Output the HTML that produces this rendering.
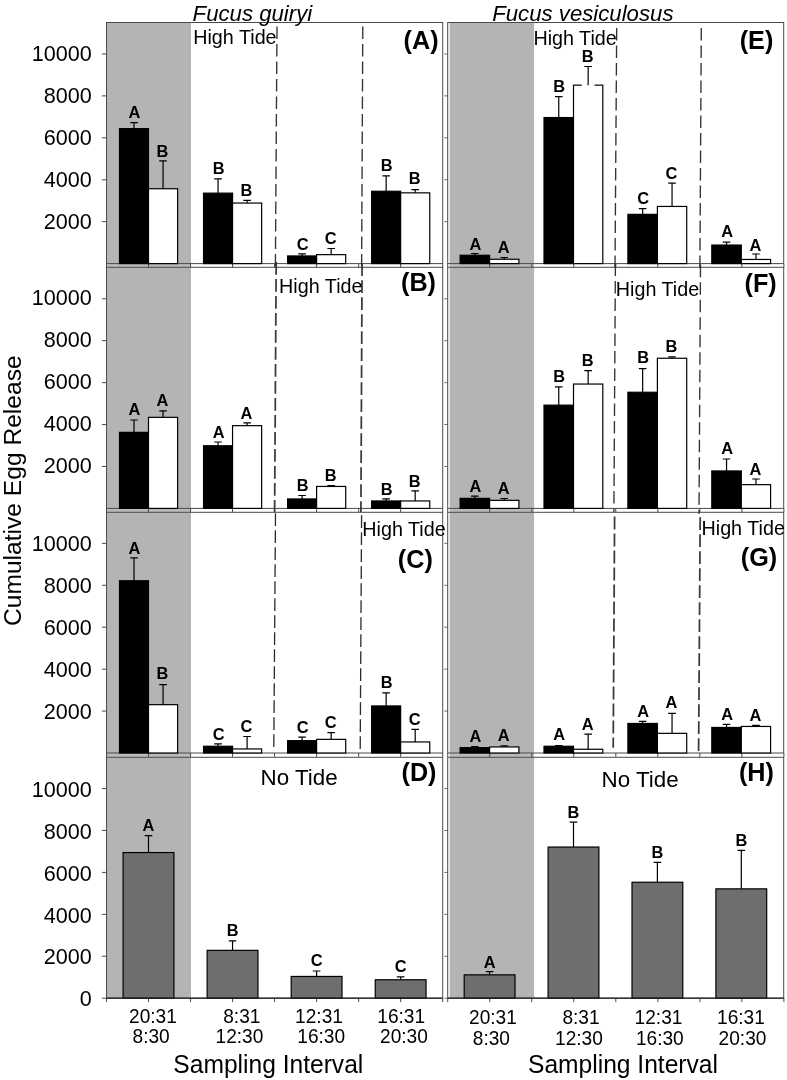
<!DOCTYPE html>
<html lang="en">
<head>
<meta charset="utf-8">
<title>Cumulative Egg Release by Sampling Interval</title>
<style>html,body{margin:0;padding:0;background:#fff}svg{display:block}text{font-kerning:normal}</style>
</head>
<body>
<svg width="787" height="1080" viewBox="0 0 787 1080" font-family="'Liberation Sans', sans-serif" fill="#000">
<rect width="787" height="1080" fill="#fff"/>
<rect x="106.5" y="263.6" width="84.5" height="3.7" fill="#bababa"/>
<rect x="106.5" y="508.4" width="84.5" height="3.9" fill="#bababa"/>
<rect x="106.5" y="753" width="84.5" height="4.3" fill="#bababa"/>
<rect x="449.7" y="263.6" width="84.4" height="3.7" fill="#bababa"/>
<rect x="449.7" y="508.4" width="84.4" height="3.9" fill="#bababa"/>
<rect x="449.7" y="753" width="84.4" height="4.3" fill="#bababa"/>
<rect x="106.5" y="22.5" width="84.5" height="241.1" fill="#b4b4b4"/>
<rect x="106.5" y="22.5" width="336.2" height="241.1" fill="none" stroke="#4a4a4a" stroke-width="1"/>
<line x1="101.9" y1="221.67" x2="106.5" y2="221.67" stroke="#4a4a4a" stroke-width="1"/>
<text transform="translate(91.7 228.97) scale(1 1.06)" font-size="21.6" text-anchor="end">2000</text>
<line x1="101.9" y1="179.74" x2="106.5" y2="179.74" stroke="#4a4a4a" stroke-width="1"/>
<text transform="translate(91.7 187.04) scale(1 1.06)" font-size="21.6" text-anchor="end">4000</text>
<line x1="101.9" y1="137.81" x2="106.5" y2="137.81" stroke="#4a4a4a" stroke-width="1"/>
<text transform="translate(91.7 145.11) scale(1 1.06)" font-size="21.6" text-anchor="end">6000</text>
<line x1="101.9" y1="95.88" x2="106.5" y2="95.88" stroke="#4a4a4a" stroke-width="1"/>
<text transform="translate(91.7 103.18) scale(1 1.06)" font-size="21.6" text-anchor="end">8000</text>
<line x1="101.9" y1="53.95" x2="106.5" y2="53.95" stroke="#4a4a4a" stroke-width="1"/>
<text transform="translate(91.7 61.25) scale(1 1.06)" font-size="21.6" text-anchor="end">10000</text>
<line x1="106.5" y1="263.6" x2="106.5" y2="267.5" stroke="#4a4a4a" stroke-width="1"/>
<line x1="148.53" y1="263.6" x2="148.53" y2="267.5" stroke="#4a4a4a" stroke-width="1"/>
<line x1="190.55" y1="263.6" x2="190.55" y2="267.5" stroke="#4a4a4a" stroke-width="1"/>
<line x1="232.57" y1="263.6" x2="232.57" y2="267.5" stroke="#4a4a4a" stroke-width="1"/>
<line x1="274.6" y1="263.6" x2="274.6" y2="267.5" stroke="#4a4a4a" stroke-width="1"/>
<line x1="316.62" y1="263.6" x2="316.62" y2="267.5" stroke="#4a4a4a" stroke-width="1"/>
<line x1="358.65" y1="263.6" x2="358.65" y2="267.5" stroke="#4a4a4a" stroke-width="1"/>
<line x1="400.68" y1="263.6" x2="400.68" y2="267.5" stroke="#4a4a4a" stroke-width="1"/>
<line x1="442.7" y1="263.6" x2="442.7" y2="267.5" stroke="#4a4a4a" stroke-width="1"/>
<rect x="449.7" y="22.5" width="84.4" height="241.1" fill="#b4b4b4"/>
<rect x="447.7" y="22.5" width="336" height="241.1" fill="none" stroke="#4a4a4a" stroke-width="1"/>
<line x1="444.3" y1="221.67" x2="447.7" y2="221.67" stroke="#4a4a4a" stroke-width="0.8"/>
<line x1="444.3" y1="179.74" x2="447.7" y2="179.74" stroke="#4a4a4a" stroke-width="0.8"/>
<line x1="444.3" y1="137.81" x2="447.7" y2="137.81" stroke="#4a4a4a" stroke-width="0.8"/>
<line x1="444.3" y1="95.88" x2="447.7" y2="95.88" stroke="#4a4a4a" stroke-width="0.8"/>
<line x1="444.3" y1="53.95" x2="447.7" y2="53.95" stroke="#4a4a4a" stroke-width="0.8"/>
<line x1="447.7" y1="263.6" x2="447.7" y2="267.5" stroke="#4a4a4a" stroke-width="1"/>
<line x1="489.72" y1="263.6" x2="489.72" y2="267.5" stroke="#4a4a4a" stroke-width="1"/>
<line x1="531.75" y1="263.6" x2="531.75" y2="267.5" stroke="#4a4a4a" stroke-width="1"/>
<line x1="573.77" y1="263.6" x2="573.77" y2="267.5" stroke="#4a4a4a" stroke-width="1"/>
<line x1="615.8" y1="263.6" x2="615.8" y2="267.5" stroke="#4a4a4a" stroke-width="1"/>
<line x1="657.83" y1="263.6" x2="657.83" y2="267.5" stroke="#4a4a4a" stroke-width="1"/>
<line x1="699.85" y1="263.6" x2="699.85" y2="267.5" stroke="#4a4a4a" stroke-width="1"/>
<line x1="741.88" y1="263.6" x2="741.88" y2="267.5" stroke="#4a4a4a" stroke-width="1"/>
<line x1="783.9" y1="263.6" x2="783.9" y2="267.5" stroke="#4a4a4a" stroke-width="1"/>
<rect x="106.5" y="267.3" width="84.5" height="241.1" fill="#b4b4b4"/>
<rect x="106.5" y="267.3" width="336.2" height="241.1" fill="none" stroke="#4a4a4a" stroke-width="1"/>
<line x1="101.9" y1="466.47" x2="106.5" y2="466.47" stroke="#4a4a4a" stroke-width="1"/>
<text transform="translate(91.7 472.97) scale(1 1.06)" font-size="21.6" text-anchor="end">2000</text>
<line x1="101.9" y1="424.54" x2="106.5" y2="424.54" stroke="#4a4a4a" stroke-width="1"/>
<text transform="translate(91.7 431.04) scale(1 1.06)" font-size="21.6" text-anchor="end">4000</text>
<line x1="101.9" y1="382.61" x2="106.5" y2="382.61" stroke="#4a4a4a" stroke-width="1"/>
<text transform="translate(91.7 389.11) scale(1 1.06)" font-size="21.6" text-anchor="end">6000</text>
<line x1="101.9" y1="340.68" x2="106.5" y2="340.68" stroke="#4a4a4a" stroke-width="1"/>
<text transform="translate(91.7 347.18) scale(1 1.06)" font-size="21.6" text-anchor="end">8000</text>
<line x1="101.9" y1="298.75" x2="106.5" y2="298.75" stroke="#4a4a4a" stroke-width="1"/>
<text transform="translate(91.7 305.25) scale(1 1.06)" font-size="21.6" text-anchor="end">10000</text>
<line x1="106.5" y1="508.4" x2="106.5" y2="512.3" stroke="#4a4a4a" stroke-width="1"/>
<line x1="148.53" y1="508.4" x2="148.53" y2="512.3" stroke="#4a4a4a" stroke-width="1"/>
<line x1="190.55" y1="508.4" x2="190.55" y2="512.3" stroke="#4a4a4a" stroke-width="1"/>
<line x1="232.57" y1="508.4" x2="232.57" y2="512.3" stroke="#4a4a4a" stroke-width="1"/>
<line x1="274.6" y1="508.4" x2="274.6" y2="512.3" stroke="#4a4a4a" stroke-width="1"/>
<line x1="316.62" y1="508.4" x2="316.62" y2="512.3" stroke="#4a4a4a" stroke-width="1"/>
<line x1="358.65" y1="508.4" x2="358.65" y2="512.3" stroke="#4a4a4a" stroke-width="1"/>
<line x1="400.68" y1="508.4" x2="400.68" y2="512.3" stroke="#4a4a4a" stroke-width="1"/>
<line x1="442.7" y1="508.4" x2="442.7" y2="512.3" stroke="#4a4a4a" stroke-width="1"/>
<rect x="449.7" y="267.3" width="84.4" height="241.1" fill="#b4b4b4"/>
<rect x="447.7" y="267.3" width="336" height="241.1" fill="none" stroke="#4a4a4a" stroke-width="1"/>
<line x1="444.3" y1="466.47" x2="447.7" y2="466.47" stroke="#4a4a4a" stroke-width="0.8"/>
<line x1="444.3" y1="424.54" x2="447.7" y2="424.54" stroke="#4a4a4a" stroke-width="0.8"/>
<line x1="444.3" y1="382.61" x2="447.7" y2="382.61" stroke="#4a4a4a" stroke-width="0.8"/>
<line x1="444.3" y1="340.68" x2="447.7" y2="340.68" stroke="#4a4a4a" stroke-width="0.8"/>
<line x1="444.3" y1="298.75" x2="447.7" y2="298.75" stroke="#4a4a4a" stroke-width="0.8"/>
<line x1="447.7" y1="508.4" x2="447.7" y2="512.3" stroke="#4a4a4a" stroke-width="1"/>
<line x1="489.72" y1="508.4" x2="489.72" y2="512.3" stroke="#4a4a4a" stroke-width="1"/>
<line x1="531.75" y1="508.4" x2="531.75" y2="512.3" stroke="#4a4a4a" stroke-width="1"/>
<line x1="573.77" y1="508.4" x2="573.77" y2="512.3" stroke="#4a4a4a" stroke-width="1"/>
<line x1="615.8" y1="508.4" x2="615.8" y2="512.3" stroke="#4a4a4a" stroke-width="1"/>
<line x1="657.83" y1="508.4" x2="657.83" y2="512.3" stroke="#4a4a4a" stroke-width="1"/>
<line x1="699.85" y1="508.4" x2="699.85" y2="512.3" stroke="#4a4a4a" stroke-width="1"/>
<line x1="741.88" y1="508.4" x2="741.88" y2="512.3" stroke="#4a4a4a" stroke-width="1"/>
<line x1="783.9" y1="508.4" x2="783.9" y2="512.3" stroke="#4a4a4a" stroke-width="1"/>
<rect x="106.5" y="512.3" width="84.5" height="240.7" fill="#b4b4b4"/>
<rect x="106.5" y="512.3" width="336.2" height="240.7" fill="none" stroke="#4a4a4a" stroke-width="1"/>
<line x1="101.9" y1="711.07" x2="106.5" y2="711.07" stroke="#4a4a4a" stroke-width="1"/>
<text transform="translate(91.7 718.87) scale(1 1.06)" font-size="21.6" text-anchor="end">2000</text>
<line x1="101.9" y1="669.14" x2="106.5" y2="669.14" stroke="#4a4a4a" stroke-width="1"/>
<text transform="translate(91.7 676.94) scale(1 1.06)" font-size="21.6" text-anchor="end">4000</text>
<line x1="101.9" y1="627.21" x2="106.5" y2="627.21" stroke="#4a4a4a" stroke-width="1"/>
<text transform="translate(91.7 635.01) scale(1 1.06)" font-size="21.6" text-anchor="end">6000</text>
<line x1="101.9" y1="585.28" x2="106.5" y2="585.28" stroke="#4a4a4a" stroke-width="1"/>
<text transform="translate(91.7 593.08) scale(1 1.06)" font-size="21.6" text-anchor="end">8000</text>
<line x1="101.9" y1="543.35" x2="106.5" y2="543.35" stroke="#4a4a4a" stroke-width="1"/>
<text transform="translate(91.7 551.15) scale(1 1.06)" font-size="21.6" text-anchor="end">10000</text>
<line x1="106.5" y1="753" x2="106.5" y2="756.9" stroke="#4a4a4a" stroke-width="1"/>
<line x1="148.53" y1="753" x2="148.53" y2="756.9" stroke="#4a4a4a" stroke-width="1"/>
<line x1="190.55" y1="753" x2="190.55" y2="756.9" stroke="#4a4a4a" stroke-width="1"/>
<line x1="232.57" y1="753" x2="232.57" y2="756.9" stroke="#4a4a4a" stroke-width="1"/>
<line x1="274.6" y1="753" x2="274.6" y2="756.9" stroke="#4a4a4a" stroke-width="1"/>
<line x1="316.62" y1="753" x2="316.62" y2="756.9" stroke="#4a4a4a" stroke-width="1"/>
<line x1="358.65" y1="753" x2="358.65" y2="756.9" stroke="#4a4a4a" stroke-width="1"/>
<line x1="400.68" y1="753" x2="400.68" y2="756.9" stroke="#4a4a4a" stroke-width="1"/>
<line x1="442.7" y1="753" x2="442.7" y2="756.9" stroke="#4a4a4a" stroke-width="1"/>
<rect x="449.7" y="512.3" width="84.4" height="240.7" fill="#b4b4b4"/>
<rect x="447.7" y="512.3" width="336" height="240.7" fill="none" stroke="#4a4a4a" stroke-width="1"/>
<line x1="444.3" y1="711.07" x2="447.7" y2="711.07" stroke="#4a4a4a" stroke-width="0.8"/>
<line x1="444.3" y1="669.14" x2="447.7" y2="669.14" stroke="#4a4a4a" stroke-width="0.8"/>
<line x1="444.3" y1="627.21" x2="447.7" y2="627.21" stroke="#4a4a4a" stroke-width="0.8"/>
<line x1="444.3" y1="585.28" x2="447.7" y2="585.28" stroke="#4a4a4a" stroke-width="0.8"/>
<line x1="444.3" y1="543.35" x2="447.7" y2="543.35" stroke="#4a4a4a" stroke-width="0.8"/>
<line x1="447.7" y1="753" x2="447.7" y2="756.9" stroke="#4a4a4a" stroke-width="1"/>
<line x1="489.72" y1="753" x2="489.72" y2="756.9" stroke="#4a4a4a" stroke-width="1"/>
<line x1="531.75" y1="753" x2="531.75" y2="756.9" stroke="#4a4a4a" stroke-width="1"/>
<line x1="573.77" y1="753" x2="573.77" y2="756.9" stroke="#4a4a4a" stroke-width="1"/>
<line x1="615.8" y1="753" x2="615.8" y2="756.9" stroke="#4a4a4a" stroke-width="1"/>
<line x1="657.83" y1="753" x2="657.83" y2="756.9" stroke="#4a4a4a" stroke-width="1"/>
<line x1="699.85" y1="753" x2="699.85" y2="756.9" stroke="#4a4a4a" stroke-width="1"/>
<line x1="741.88" y1="753" x2="741.88" y2="756.9" stroke="#4a4a4a" stroke-width="1"/>
<line x1="783.9" y1="753" x2="783.9" y2="756.9" stroke="#4a4a4a" stroke-width="1"/>
<rect x="106.5" y="757.3" width="84.5" height="240.9" fill="#b4b4b4"/>
<rect x="106.5" y="757.3" width="336.2" height="240.9" fill="none" stroke="#4a4a4a" stroke-width="1"/>
<line x1="101.9" y1="956.27" x2="106.5" y2="956.27" stroke="#4a4a4a" stroke-width="1"/>
<text transform="translate(91.7 964.47) scale(1 1.06)" font-size="21.6" text-anchor="end">2000</text>
<line x1="101.9" y1="914.34" x2="106.5" y2="914.34" stroke="#4a4a4a" stroke-width="1"/>
<text transform="translate(91.7 922.54) scale(1 1.06)" font-size="21.6" text-anchor="end">4000</text>
<line x1="101.9" y1="872.41" x2="106.5" y2="872.41" stroke="#4a4a4a" stroke-width="1"/>
<text transform="translate(91.7 880.61) scale(1 1.06)" font-size="21.6" text-anchor="end">6000</text>
<line x1="101.9" y1="830.48" x2="106.5" y2="830.48" stroke="#4a4a4a" stroke-width="1"/>
<text transform="translate(91.7 838.68) scale(1 1.06)" font-size="21.6" text-anchor="end">8000</text>
<line x1="101.9" y1="788.55" x2="106.5" y2="788.55" stroke="#4a4a4a" stroke-width="1"/>
<text transform="translate(91.7 796.75) scale(1 1.06)" font-size="21.6" text-anchor="end">10000</text>
<line x1="106.5" y1="998.2" x2="106.5" y2="1002.1" stroke="#4a4a4a" stroke-width="1"/>
<line x1="148.53" y1="998.2" x2="148.53" y2="1002.1" stroke="#4a4a4a" stroke-width="1"/>
<line x1="190.55" y1="998.2" x2="190.55" y2="1002.1" stroke="#4a4a4a" stroke-width="1"/>
<line x1="232.57" y1="998.2" x2="232.57" y2="1002.1" stroke="#4a4a4a" stroke-width="1"/>
<line x1="274.6" y1="998.2" x2="274.6" y2="1002.1" stroke="#4a4a4a" stroke-width="1"/>
<line x1="316.62" y1="998.2" x2="316.62" y2="1002.1" stroke="#4a4a4a" stroke-width="1"/>
<line x1="358.65" y1="998.2" x2="358.65" y2="1002.1" stroke="#4a4a4a" stroke-width="1"/>
<line x1="400.68" y1="998.2" x2="400.68" y2="1002.1" stroke="#4a4a4a" stroke-width="1"/>
<line x1="442.7" y1="998.2" x2="442.7" y2="1002.1" stroke="#4a4a4a" stroke-width="1"/>
<rect x="449.7" y="757.3" width="84.4" height="240.9" fill="#b4b4b4"/>
<rect x="447.7" y="757.3" width="336" height="240.9" fill="none" stroke="#4a4a4a" stroke-width="1"/>
<line x1="444.3" y1="956.27" x2="447.7" y2="956.27" stroke="#4a4a4a" stroke-width="0.8"/>
<line x1="444.3" y1="914.34" x2="447.7" y2="914.34" stroke="#4a4a4a" stroke-width="0.8"/>
<line x1="444.3" y1="872.41" x2="447.7" y2="872.41" stroke="#4a4a4a" stroke-width="0.8"/>
<line x1="444.3" y1="830.48" x2="447.7" y2="830.48" stroke="#4a4a4a" stroke-width="0.8"/>
<line x1="444.3" y1="788.55" x2="447.7" y2="788.55" stroke="#4a4a4a" stroke-width="0.8"/>
<line x1="447.7" y1="998.2" x2="447.7" y2="1002.1" stroke="#4a4a4a" stroke-width="1"/>
<line x1="489.72" y1="998.2" x2="489.72" y2="1002.1" stroke="#4a4a4a" stroke-width="1"/>
<line x1="531.75" y1="998.2" x2="531.75" y2="1002.1" stroke="#4a4a4a" stroke-width="1"/>
<line x1="573.77" y1="998.2" x2="573.77" y2="1002.1" stroke="#4a4a4a" stroke-width="1"/>
<line x1="615.8" y1="998.2" x2="615.8" y2="1002.1" stroke="#4a4a4a" stroke-width="1"/>
<line x1="657.83" y1="998.2" x2="657.83" y2="1002.1" stroke="#4a4a4a" stroke-width="1"/>
<line x1="699.85" y1="998.2" x2="699.85" y2="1002.1" stroke="#4a4a4a" stroke-width="1"/>
<line x1="741.88" y1="998.2" x2="741.88" y2="1002.1" stroke="#4a4a4a" stroke-width="1"/>
<line x1="783.9" y1="998.2" x2="783.9" y2="1002.1" stroke="#4a4a4a" stroke-width="1"/>
<text transform="translate(91.7 1006.4) scale(1 1.06)" font-size="21.6" text-anchor="end">0</text>
<line x1="101.9" y1="998.2" x2="106.5" y2="998.2" stroke="#4a4a4a" stroke-width="1"/>
<line x1="444.3" y1="998.2" x2="447.7" y2="998.2" stroke="#4a4a4a" stroke-width="0.8"/>
<line x1="277" y1="26.5" x2="275.4" y2="267.6" stroke="#333" stroke-width="1.35" stroke-dasharray="12.5 5"/>
<line x1="362.8" y1="26.5" x2="361.6" y2="267.6" stroke="#333" stroke-width="1.35" stroke-dasharray="12.5 5"/>
<line x1="616.7" y1="27.9" x2="615" y2="267.6" stroke="#333" stroke-width="1.35" stroke-dasharray="12.5 5"/>
<line x1="701.3" y1="27.9" x2="699.9" y2="267.6" stroke="#333" stroke-width="1.35" stroke-dasharray="12.5 5"/>
<line x1="276.2" y1="262" x2="274.6" y2="512" stroke="#3a3a3a" stroke-width="1.75" stroke-dasharray="12.8 4.2"/>
<line x1="362.1" y1="263.2" x2="360.9" y2="512" stroke="#3a3a3a" stroke-width="1.75" stroke-dasharray="12.8 4.2"/>
<line x1="615.4" y1="263.4" x2="613.9" y2="512" stroke="#333" stroke-width="1.35" stroke-dasharray="12.5 5"/>
<line x1="700.5" y1="264.7" x2="699" y2="514" stroke="#333" stroke-width="1.35" stroke-dasharray="12.5 5"/>
<line x1="275.5" y1="513.2" x2="273.8" y2="748" stroke="#2a2a2a" stroke-width="1.3" stroke-dasharray="12.8 4.2"/>
<line x1="361.6" y1="515.3" x2="360.2" y2="749.2" stroke="#2a2a2a" stroke-width="1.3" stroke-dasharray="12.8 4.2"/>
<line x1="614.6" y1="516.6" x2="613.2" y2="747.8" stroke="#3a3a3a" stroke-width="1.75" stroke-dasharray="12.8 4.2"/>
<line x1="700.2" y1="517.3" x2="698.6" y2="751" stroke="#3a3a3a" stroke-width="1.75" stroke-dasharray="12.8 4.2"/>
<rect x="119.5" y="128.65" width="29" height="134.95" fill="#000" stroke="#000" stroke-width="1.2"/>
<path d="M134 128.65V122.6M130.2 122.6H137.8" fill="none" stroke="#000" stroke-width="1.2"/>
<text transform="translate(134.5 118.3) scale(1 1.04)" font-size="16.4" text-anchor="middle" font-weight="bold">A</text>
<rect x="148.5" y="188.75" width="29.1" height="74.85" fill="#fff" stroke="#000" stroke-width="1.2"/>
<path d="M163.05 188.75V160.8M159.25 160.8H166.85" fill="none" stroke="#000" stroke-width="1.2"/>
<text transform="translate(162.45 156.5) scale(1 1.04)" font-size="16.4" text-anchor="middle" font-weight="bold">B</text>
<rect x="203.55" y="193.15" width="29" height="70.45" fill="#000" stroke="#000" stroke-width="1.2"/>
<path d="M218.05 193.15V178.8M214.25 178.8H221.85" fill="none" stroke="#000" stroke-width="1.2"/>
<text transform="translate(218.55 173.5) scale(1 1.04)" font-size="16.4" text-anchor="middle" font-weight="bold">B</text>
<rect x="232.55" y="203.05" width="29.1" height="60.55" fill="#fff" stroke="#000" stroke-width="1.2"/>
<path d="M247.1 203.05V200.3M243.3 200.3H250.9" fill="none" stroke="#000" stroke-width="1.2"/>
<text transform="translate(246.5 195.6) scale(1 1.04)" font-size="16.4" text-anchor="middle" font-weight="bold">B</text>
<rect x="287.6" y="255.95" width="29" height="7.65" fill="#000" stroke="#000" stroke-width="1.2"/>
<path d="M302.1 255.95V253.8M298.3 253.8H305.9" fill="none" stroke="#000" stroke-width="1.2"/>
<text transform="translate(302.6 249.5) scale(1 1.04)" font-size="16.4" text-anchor="middle" font-weight="bold">C</text>
<rect x="316.6" y="254.65" width="29.1" height="8.95" fill="#fff" stroke="#000" stroke-width="1.2"/>
<path d="M331.15 254.65V248.5M327.35 248.5H334.95" fill="none" stroke="#000" stroke-width="1.2"/>
<text transform="translate(330.55 244.2) scale(1 1.04)" font-size="16.4" text-anchor="middle" font-weight="bold">C</text>
<rect x="371.65" y="191.25" width="29" height="72.35" fill="#000" stroke="#000" stroke-width="1.2"/>
<path d="M386.15 191.25V175.9M382.35 175.9H389.95" fill="none" stroke="#000" stroke-width="1.2"/>
<text transform="translate(386.65 170.9) scale(1 1.04)" font-size="16.4" text-anchor="middle" font-weight="bold">B</text>
<rect x="400.65" y="192.85" width="29.1" height="70.75" fill="#fff" stroke="#000" stroke-width="1.2"/>
<path d="M415.2 192.85V189.7M411.4 189.7H419" fill="none" stroke="#000" stroke-width="1.2"/>
<text transform="translate(414.6 184.4) scale(1 1.04)" font-size="16.4" text-anchor="middle" font-weight="bold">B</text>
<rect x="460.1" y="255.25" width="29.5" height="8.35" fill="#000" stroke="#000" stroke-width="1.2"/>
<path d="M474.85 255.25V253.5M471.05 253.5H478.65" fill="none" stroke="#000" stroke-width="1.2"/>
<text transform="translate(475.35 249.5) scale(1 1.04)" font-size="16.4" text-anchor="middle" font-weight="bold">A</text>
<rect x="489.6" y="259.25" width="29.3" height="4.35" fill="#fff" stroke="#000" stroke-width="1.2"/>
<path d="M504.25 259.25V257.5M500.45 257.5H508.05" fill="none" stroke="#000" stroke-width="1.2"/>
<text transform="translate(503.65 252.8) scale(1 1.04)" font-size="16.4" text-anchor="middle" font-weight="bold">A</text>
<rect x="544" y="117.55" width="29.5" height="146.05" fill="#000" stroke="#000" stroke-width="1.2"/>
<path d="M558.75 117.55V96.6M554.95 96.6H562.55" fill="none" stroke="#000" stroke-width="1.2"/>
<text transform="translate(559.25 91.6) scale(1 1.04)" font-size="16.4" text-anchor="middle" font-weight="bold">B</text>
<rect x="573.5" y="85.15" width="29.3" height="178.45" fill="#fff" stroke="#000" stroke-width="1.2"/>
<rect x="581.75" y="83.55" width="12.8" height="2.6" fill="#fff"/>
<path d="M588.15 85.15V66.5M584.35 66.5H591.95" fill="none" stroke="#000" stroke-width="1.2"/>
<text transform="translate(587.55 61.8) scale(1 1.04)" font-size="16.4" text-anchor="middle" font-weight="bold">B</text>
<rect x="627.9" y="214.35" width="29.5" height="49.25" fill="#000" stroke="#000" stroke-width="1.2"/>
<path d="M642.65 214.35V208.6M638.85 208.6H646.45" fill="none" stroke="#000" stroke-width="1.2"/>
<text transform="translate(643.15 203.9) scale(1 1.04)" font-size="16.4" text-anchor="middle" font-weight="bold">C</text>
<rect x="657.4" y="206.45" width="29.3" height="57.15" fill="#fff" stroke="#000" stroke-width="1.2"/>
<path d="M672.05 206.45V183.1M668.25 183.1H675.85" fill="none" stroke="#000" stroke-width="1.2"/>
<text transform="translate(671.45 178.5) scale(1 1.04)" font-size="16.4" text-anchor="middle" font-weight="bold">C</text>
<rect x="711.8" y="245.05" width="29.5" height="18.55" fill="#000" stroke="#000" stroke-width="1.2"/>
<path d="M726.55 245.05V242.1M722.75 242.1H730.35" fill="none" stroke="#000" stroke-width="1.2"/>
<text transform="translate(727.05 237.3) scale(1 1.04)" font-size="16.4" text-anchor="middle" font-weight="bold">A</text>
<rect x="741.3" y="259.45" width="29.3" height="4.15" fill="#fff" stroke="#000" stroke-width="1.2"/>
<path d="M755.95 259.45V254M752.15 254H759.75" fill="none" stroke="#000" stroke-width="1.2"/>
<text transform="translate(755.35 250.5) scale(1 1.04)" font-size="16.4" text-anchor="middle" font-weight="bold">A</text>
<rect x="119.5" y="432.35" width="29" height="76.05" fill="#000" stroke="#000" stroke-width="1.2"/>
<path d="M134 432.35V420M130.2 420H137.8" fill="none" stroke="#000" stroke-width="1.2"/>
<text transform="translate(134.5 415.4) scale(1 1.04)" font-size="16.4" text-anchor="middle" font-weight="bold">A</text>
<rect x="148.5" y="417.35" width="29.1" height="91.05" fill="#fff" stroke="#000" stroke-width="1.2"/>
<path d="M163.05 417.35V410.8M159.25 410.8H166.85" fill="none" stroke="#000" stroke-width="1.2"/>
<text transform="translate(162.45 405.8) scale(1 1.04)" font-size="16.4" text-anchor="middle" font-weight="bold">A</text>
<rect x="203.55" y="445.75" width="29" height="62.65" fill="#000" stroke="#000" stroke-width="1.2"/>
<path d="M218.05 445.75V442M214.25 442H221.85" fill="none" stroke="#000" stroke-width="1.2"/>
<text transform="translate(218.55 437.7) scale(1 1.04)" font-size="16.4" text-anchor="middle" font-weight="bold">A</text>
<rect x="232.55" y="425.65" width="29.1" height="82.75" fill="#fff" stroke="#000" stroke-width="1.2"/>
<path d="M247.1 425.65V422.9M243.3 422.9H250.9" fill="none" stroke="#000" stroke-width="1.2"/>
<text transform="translate(246.5 418.5) scale(1 1.04)" font-size="16.4" text-anchor="middle" font-weight="bold">A</text>
<rect x="287.6" y="498.95" width="29" height="9.45" fill="#000" stroke="#000" stroke-width="1.2"/>
<path d="M302.1 498.95V495.5M298.3 495.5H305.9" fill="none" stroke="#000" stroke-width="1.2"/>
<text transform="translate(302.6 490.6) scale(1 1.04)" font-size="16.4" text-anchor="middle" font-weight="bold">B</text>
<rect x="316.6" y="486.45" width="29.1" height="21.95" fill="#fff" stroke="#000" stroke-width="1.2"/>
<path d="M331.15 486.45V485.6M327.35 485.6H334.95" fill="none" stroke="#000" stroke-width="1.2"/>
<text transform="translate(330.55 480.6) scale(1 1.04)" font-size="16.4" text-anchor="middle" font-weight="bold">B</text>
<rect x="371.65" y="500.95" width="29" height="7.45" fill="#000" stroke="#000" stroke-width="1.2"/>
<path d="M386.15 500.95V498.8M382.35 498.8H389.95" fill="none" stroke="#000" stroke-width="1.2"/>
<text transform="translate(386.65 494.5) scale(1 1.04)" font-size="16.4" text-anchor="middle" font-weight="bold">B</text>
<rect x="400.65" y="500.95" width="29.1" height="7.45" fill="#fff" stroke="#000" stroke-width="1.2"/>
<path d="M415.2 500.95V490.9M411.4 490.9H419" fill="none" stroke="#000" stroke-width="1.2"/>
<text transform="translate(414.6 486.6) scale(1 1.04)" font-size="16.4" text-anchor="middle" font-weight="bold">B</text>
<rect x="460.1" y="498.35" width="29.5" height="10.05" fill="#000" stroke="#000" stroke-width="1.2"/>
<path d="M474.85 498.35V496.2M471.05 496.2H478.65" fill="none" stroke="#000" stroke-width="1.2"/>
<text transform="translate(475.35 491.9) scale(1 1.04)" font-size="16.4" text-anchor="middle" font-weight="bold">A</text>
<rect x="489.6" y="500.35" width="29.3" height="8.05" fill="#fff" stroke="#000" stroke-width="1.2"/>
<path d="M504.25 500.35V498.5M500.45 498.5H508.05" fill="none" stroke="#000" stroke-width="1.2"/>
<text transform="translate(503.65 493.9) scale(1 1.04)" font-size="16.4" text-anchor="middle" font-weight="bold">A</text>
<rect x="544" y="405.15" width="29.5" height="103.25" fill="#000" stroke="#000" stroke-width="1.2"/>
<path d="M558.75 405.15V386.8M554.95 386.8H562.55" fill="none" stroke="#000" stroke-width="1.2"/>
<text transform="translate(559.25 382.2) scale(1 1.04)" font-size="16.4" text-anchor="middle" font-weight="bold">B</text>
<rect x="573.5" y="384.05" width="29.3" height="124.35" fill="#fff" stroke="#000" stroke-width="1.2"/>
<path d="M588.15 384.05V370.7M584.35 370.7H591.95" fill="none" stroke="#000" stroke-width="1.2"/>
<text transform="translate(587.55 365.7) scale(1 1.04)" font-size="16.4" text-anchor="middle" font-weight="bold">B</text>
<rect x="627.9" y="392.25" width="29.5" height="116.15" fill="#000" stroke="#000" stroke-width="1.2"/>
<path d="M642.65 392.25V368.7M638.85 368.7H646.45" fill="none" stroke="#000" stroke-width="1.2"/>
<text transform="translate(643.15 363.4) scale(1 1.04)" font-size="16.4" text-anchor="middle" font-weight="bold">B</text>
<rect x="657.4" y="358.25" width="29.3" height="150.15" fill="#fff" stroke="#000" stroke-width="1.2"/>
<path d="M672.05 358.25V356.8M668.25 356.8H675.85" fill="none" stroke="#000" stroke-width="1.2"/>
<text transform="translate(671.45 351.8) scale(1 1.04)" font-size="16.4" text-anchor="middle" font-weight="bold">B</text>
<rect x="711.8" y="470.95" width="29.5" height="37.45" fill="#000" stroke="#000" stroke-width="1.2"/>
<path d="M726.55 470.95V459M722.75 459H730.35" fill="none" stroke="#000" stroke-width="1.2"/>
<text transform="translate(727.05 454) scale(1 1.04)" font-size="16.4" text-anchor="middle" font-weight="bold">A</text>
<rect x="741.3" y="484.65" width="29.3" height="23.75" fill="#fff" stroke="#000" stroke-width="1.2"/>
<path d="M755.95 484.65V479M752.15 479H759.75" fill="none" stroke="#000" stroke-width="1.2"/>
<text transform="translate(755.35 474.9) scale(1 1.04)" font-size="16.4" text-anchor="middle" font-weight="bold">A</text>
<rect x="119.5" y="580.75" width="29" height="172.25" fill="#000" stroke="#000" stroke-width="1.2"/>
<path d="M134 580.75V557.8M130.2 557.8H137.8" fill="none" stroke="#000" stroke-width="1.2"/>
<text transform="translate(134.5 553.5) scale(1 1.04)" font-size="16.4" text-anchor="middle" font-weight="bold">A</text>
<rect x="148.5" y="704.65" width="29.1" height="48.35" fill="#fff" stroke="#000" stroke-width="1.2"/>
<path d="M163.05 704.65V684.7M159.25 684.7H166.85" fill="none" stroke="#000" stroke-width="1.2"/>
<text transform="translate(162.45 679) scale(1 1.04)" font-size="16.4" text-anchor="middle" font-weight="bold">B</text>
<rect x="203.55" y="746.25" width="29" height="6.75" fill="#000" stroke="#000" stroke-width="1.2"/>
<path d="M218.05 746.25V743.8M214.25 743.8H221.85" fill="none" stroke="#000" stroke-width="1.2"/>
<text transform="translate(218.55 739.5) scale(1 1.04)" font-size="16.4" text-anchor="middle" font-weight="bold">C</text>
<rect x="232.55" y="748.95" width="29.1" height="4.05" fill="#fff" stroke="#000" stroke-width="1.2"/>
<path d="M247.1 748.95V736.5M243.3 736.5H250.9" fill="none" stroke="#000" stroke-width="1.2"/>
<text transform="translate(246.5 731.9) scale(1 1.04)" font-size="16.4" text-anchor="middle" font-weight="bold">C</text>
<rect x="287.6" y="740.65" width="29" height="12.35" fill="#000" stroke="#000" stroke-width="1.2"/>
<path d="M302.1 740.65V737.2M298.3 737.2H305.9" fill="none" stroke="#000" stroke-width="1.2"/>
<text transform="translate(302.6 732.9) scale(1 1.04)" font-size="16.4" text-anchor="middle" font-weight="bold">C</text>
<rect x="316.6" y="739.35" width="29.1" height="13.65" fill="#fff" stroke="#000" stroke-width="1.2"/>
<path d="M331.15 739.35V732.6M327.35 732.6H334.95" fill="none" stroke="#000" stroke-width="1.2"/>
<text transform="translate(330.55 727.6) scale(1 1.04)" font-size="16.4" text-anchor="middle" font-weight="bold">C</text>
<rect x="371.65" y="705.95" width="29" height="47.05" fill="#000" stroke="#000" stroke-width="1.2"/>
<path d="M386.15 705.95V692.9M382.35 692.9H389.95" fill="none" stroke="#000" stroke-width="1.2"/>
<text transform="translate(386.65 688) scale(1 1.04)" font-size="16.4" text-anchor="middle" font-weight="bold">B</text>
<rect x="400.65" y="741.95" width="29.1" height="11.05" fill="#fff" stroke="#000" stroke-width="1.2"/>
<path d="M415.2 741.95V729.3M411.4 729.3H419" fill="none" stroke="#000" stroke-width="1.2"/>
<text transform="translate(414.6 724.6) scale(1 1.04)" font-size="16.4" text-anchor="middle" font-weight="bold">C</text>
<rect x="460.1" y="747.65" width="29.5" height="5.35" fill="#000" stroke="#000" stroke-width="1.2"/>
<path d="M474.85 747.65V746.7M471.05 746.7H478.65" fill="none" stroke="#000" stroke-width="1.2"/>
<text transform="translate(475.35 742.1) scale(1 1.04)" font-size="16.4" text-anchor="middle" font-weight="bold">A</text>
<rect x="489.6" y="746.95" width="29.3" height="6.05" fill="#fff" stroke="#000" stroke-width="1.2"/>
<path d="M504.25 746.95V745.8M500.45 745.8H508.05" fill="none" stroke="#000" stroke-width="1.2"/>
<text transform="translate(503.65 740.8) scale(1 1.04)" font-size="16.4" text-anchor="middle" font-weight="bold">A</text>
<rect x="544" y="746.25" width="29.5" height="6.75" fill="#000" stroke="#000" stroke-width="1.2"/>
<path d="M558.75 746.25V745.5M554.95 745.5H562.55" fill="none" stroke="#000" stroke-width="1.2"/>
<text transform="translate(559.25 739.5) scale(1 1.04)" font-size="16.4" text-anchor="middle" font-weight="bold">A</text>
<rect x="573.5" y="749.25" width="29.3" height="3.75" fill="#fff" stroke="#000" stroke-width="1.2"/>
<path d="M588.15 749.25V734.2M584.35 734.2H591.95" fill="none" stroke="#000" stroke-width="1.2"/>
<text transform="translate(587.55 730.2) scale(1 1.04)" font-size="16.4" text-anchor="middle" font-weight="bold">A</text>
<rect x="627.9" y="723.45" width="29.5" height="29.55" fill="#000" stroke="#000" stroke-width="1.2"/>
<path d="M642.65 723.45V721.3M638.85 721.3H646.45" fill="none" stroke="#000" stroke-width="1.2"/>
<text transform="translate(643.15 717) scale(1 1.04)" font-size="16.4" text-anchor="middle" font-weight="bold">A</text>
<rect x="657.4" y="733.35" width="29.3" height="19.65" fill="#fff" stroke="#000" stroke-width="1.2"/>
<path d="M672.05 733.35V713.4M668.25 713.4H675.85" fill="none" stroke="#000" stroke-width="1.2"/>
<text transform="translate(671.45 708.1) scale(1 1.04)" font-size="16.4" text-anchor="middle" font-weight="bold">A</text>
<rect x="711.8" y="727.45" width="29.5" height="25.55" fill="#000" stroke="#000" stroke-width="1.2"/>
<path d="M726.55 727.45V724.3M722.75 724.3H730.35" fill="none" stroke="#000" stroke-width="1.2"/>
<text transform="translate(727.05 720.3) scale(1 1.04)" font-size="16.4" text-anchor="middle" font-weight="bold">A</text>
<rect x="741.3" y="726.45" width="29.3" height="26.55" fill="#fff" stroke="#000" stroke-width="1.2"/>
<path d="M755.95 726.45V725.3M752.15 725.3H759.75" fill="none" stroke="#000" stroke-width="1.2"/>
<text transform="translate(755.35 721) scale(1 1.04)" font-size="16.4" text-anchor="middle" font-weight="bold">A</text>
<rect x="123.1" y="852.55" width="50.8" height="145.65" fill="#6e6e6e" stroke="#000" stroke-width="1.2"/>
<path d="M148.5 852.55V835.6M144.7 835.6H152.3" fill="none" stroke="#000" stroke-width="1.2"/>
<text transform="translate(148.5 831.1) scale(1 1.04)" font-size="16.4" text-anchor="middle" font-weight="bold">A</text>
<rect x="207.15" y="950.35" width="50.8" height="47.85" fill="#6e6e6e" stroke="#000" stroke-width="1.2"/>
<path d="M232.55 950.35V940.9M228.75 940.9H236.35" fill="none" stroke="#000" stroke-width="1.2"/>
<text transform="translate(232.55 936.3) scale(1 1.04)" font-size="16.4" text-anchor="middle" font-weight="bold">B</text>
<rect x="291.2" y="976.45" width="50.8" height="21.75" fill="#6e6e6e" stroke="#000" stroke-width="1.2"/>
<path d="M316.6 976.45V971M312.8 971H320.4" fill="none" stroke="#000" stroke-width="1.2"/>
<text transform="translate(316.6 966) scale(1 1.04)" font-size="16.4" text-anchor="middle" font-weight="bold">C</text>
<rect x="375.25" y="979.75" width="50.8" height="18.45" fill="#6e6e6e" stroke="#000" stroke-width="1.2"/>
<path d="M400.65 979.75V976.9M396.85 976.9H404.45" fill="none" stroke="#000" stroke-width="1.2"/>
<text transform="translate(400.65 971.9) scale(1 1.04)" font-size="16.4" text-anchor="middle" font-weight="bold">C</text>
<rect x="464.2" y="974.85" width="50.8" height="23.35" fill="#6e6e6e" stroke="#000" stroke-width="1.2"/>
<path d="M489.6 974.85V971.6M485.8 971.6H493.4" fill="none" stroke="#000" stroke-width="1.2"/>
<text transform="translate(489.6 968) scale(1 1.04)" font-size="16.4" text-anchor="middle" font-weight="bold">A</text>
<rect x="548.1" y="847.05" width="50.8" height="151.15" fill="#6e6e6e" stroke="#000" stroke-width="1.2"/>
<path d="M573.5 847.05V822.2M569.7 822.2H577.3" fill="none" stroke="#000" stroke-width="1.2"/>
<text transform="translate(573.5 818.1) scale(1 1.04)" font-size="16.4" text-anchor="middle" font-weight="bold">B</text>
<rect x="632" y="882.25" width="50.8" height="115.95" fill="#6e6e6e" stroke="#000" stroke-width="1.2"/>
<path d="M657.4 882.25V862.3M653.6 862.3H661.2" fill="none" stroke="#000" stroke-width="1.2"/>
<text transform="translate(657.4 857.7) scale(1 1.04)" font-size="16.4" text-anchor="middle" font-weight="bold">B</text>
<rect x="715.9" y="888.85" width="50.8" height="109.35" fill="#6e6e6e" stroke="#000" stroke-width="1.2"/>
<path d="M741.3 888.85V850.4M737.5 850.4H745.1" fill="none" stroke="#000" stroke-width="1.2"/>
<text transform="translate(741.3 845.8) scale(1 1.04)" font-size="16.4" text-anchor="middle" font-weight="bold">B</text>
<line x1="106.5" y1="998.2" x2="442.7" y2="998.2" stroke="#222" stroke-width="1.2"/>
<line x1="447.7" y1="998.2" x2="783.7" y2="998.2" stroke="#222" stroke-width="1.2"/>
<text transform="translate(192.6 20.9) scale(1 0.97)" font-size="22.2" font-style="italic">Fucus guiryi</text>
<text transform="translate(492.2 20.9) scale(1 0.97)" font-size="22.2" font-style="italic">Fucus vesiculosus</text>
<text transform="translate(193.2 43.7) scale(1 1.02)" font-size="19.75">High Tide</text>
<text transform="translate(279.1 293.2) scale(1 1.02)" font-size="19.75">High Tide</text>
<text transform="translate(362.3 535.9) scale(1 1.02)" font-size="19.75">High Tide</text>
<text transform="translate(533.4 45.2) scale(1 1.02)" font-size="19.75">High Tide</text>
<text transform="translate(615.8 296.1) scale(1 1.02)" font-size="19.75">High Tide</text>
<text transform="translate(701.5 535.2) scale(1 1.02)" font-size="19.75">High Tide</text>
<text transform="translate(260.6 785.3) scale(1 1.02)" font-size="22.4">No Tide</text>
<text transform="translate(601.5 786.6) scale(1 1.02)" font-size="22.4">No Tide</text>
<text transform="translate(421.1 48.5) scale(1 1.03)" font-size="25.2" text-anchor="middle" font-weight="bold">(A)</text>
<text transform="translate(418.5 290.8) scale(1 1.03)" font-size="25.2" text-anchor="middle" font-weight="bold">(B)</text>
<text transform="translate(415.3 567.5) scale(1 1.03)" font-size="25.2" text-anchor="middle" font-weight="bold">(C)</text>
<text transform="translate(419 781) scale(1 1.03)" font-size="25.2" text-anchor="middle" font-weight="bold">(D)</text>
<text transform="translate(756.5 49.2) scale(1 1.03)" font-size="25.2" text-anchor="middle" font-weight="bold">(E)</text>
<text transform="translate(760.6 291.7) scale(1 1.03)" font-size="25.2" text-anchor="middle" font-weight="bold">(F)</text>
<text transform="translate(759 566.4) scale(1 1.03)" font-size="25.2" text-anchor="middle" font-weight="bold">(G)</text>
<text transform="translate(756.4 781.2) scale(1 1.03)" font-size="25.2" text-anchor="middle" font-weight="bold">(H)</text>
<text transform="translate(152.9 1022.5) scale(1 1.07)" font-size="19.1" text-anchor="middle">20:31</text>
<text transform="translate(151.1 1043.4) scale(1 1.07)" font-size="19.1" text-anchor="middle">8:30</text>
<text transform="translate(241.8 1022.5) scale(1 1.07)" font-size="19.1" text-anchor="middle">8:31</text>
<text transform="translate(239.4 1043.4) scale(1 1.07)" font-size="19.1" text-anchor="middle">12:30</text>
<text transform="translate(319 1022.5) scale(1 1.07)" font-size="19.1" text-anchor="middle">12:31</text>
<text transform="translate(321.2 1043.4) scale(1 1.07)" font-size="19.1" text-anchor="middle">16:30</text>
<text transform="translate(401.2 1022.5) scale(1 1.07)" font-size="19.1" text-anchor="middle">16:31</text>
<text transform="translate(403.9 1043.4) scale(1 1.07)" font-size="19.1" text-anchor="middle">20:30</text>
<text transform="translate(492.9 1023.7) scale(1 1.07)" font-size="19.1" text-anchor="middle">20:31</text>
<text transform="translate(491.4 1044.9) scale(1 1.07)" font-size="19.1" text-anchor="middle">8:30</text>
<text transform="translate(581 1023.7) scale(1 1.07)" font-size="19.1" text-anchor="middle">8:31</text>
<text transform="translate(578.9 1044.9) scale(1 1.07)" font-size="19.1" text-anchor="middle">12:30</text>
<text transform="translate(658.5 1023.7) scale(1 1.07)" font-size="19.1" text-anchor="middle">12:31</text>
<text transform="translate(659.8 1044.9) scale(1 1.07)" font-size="19.1" text-anchor="middle">16:30</text>
<text transform="translate(740.9 1023.7) scale(1 1.07)" font-size="19.1" text-anchor="middle">16:31</text>
<text transform="translate(742.5 1044.9) scale(1 1.07)" font-size="19.1" text-anchor="middle">20:30</text>
<text transform="translate(268.3 1072.5) scale(1 1.04)" font-size="24.6" text-anchor="middle">Sampling Interval</text>
<text transform="translate(623 1073) scale(1 1.04)" font-size="24.6" text-anchor="middle">Sampling Interval</text>
<text transform="translate(20.7 490.7) rotate(-90) scale(1 1.01)" font-size="24.6" text-anchor="middle">Cumulative Egg Release</text>
</svg>
</body>
</html>
